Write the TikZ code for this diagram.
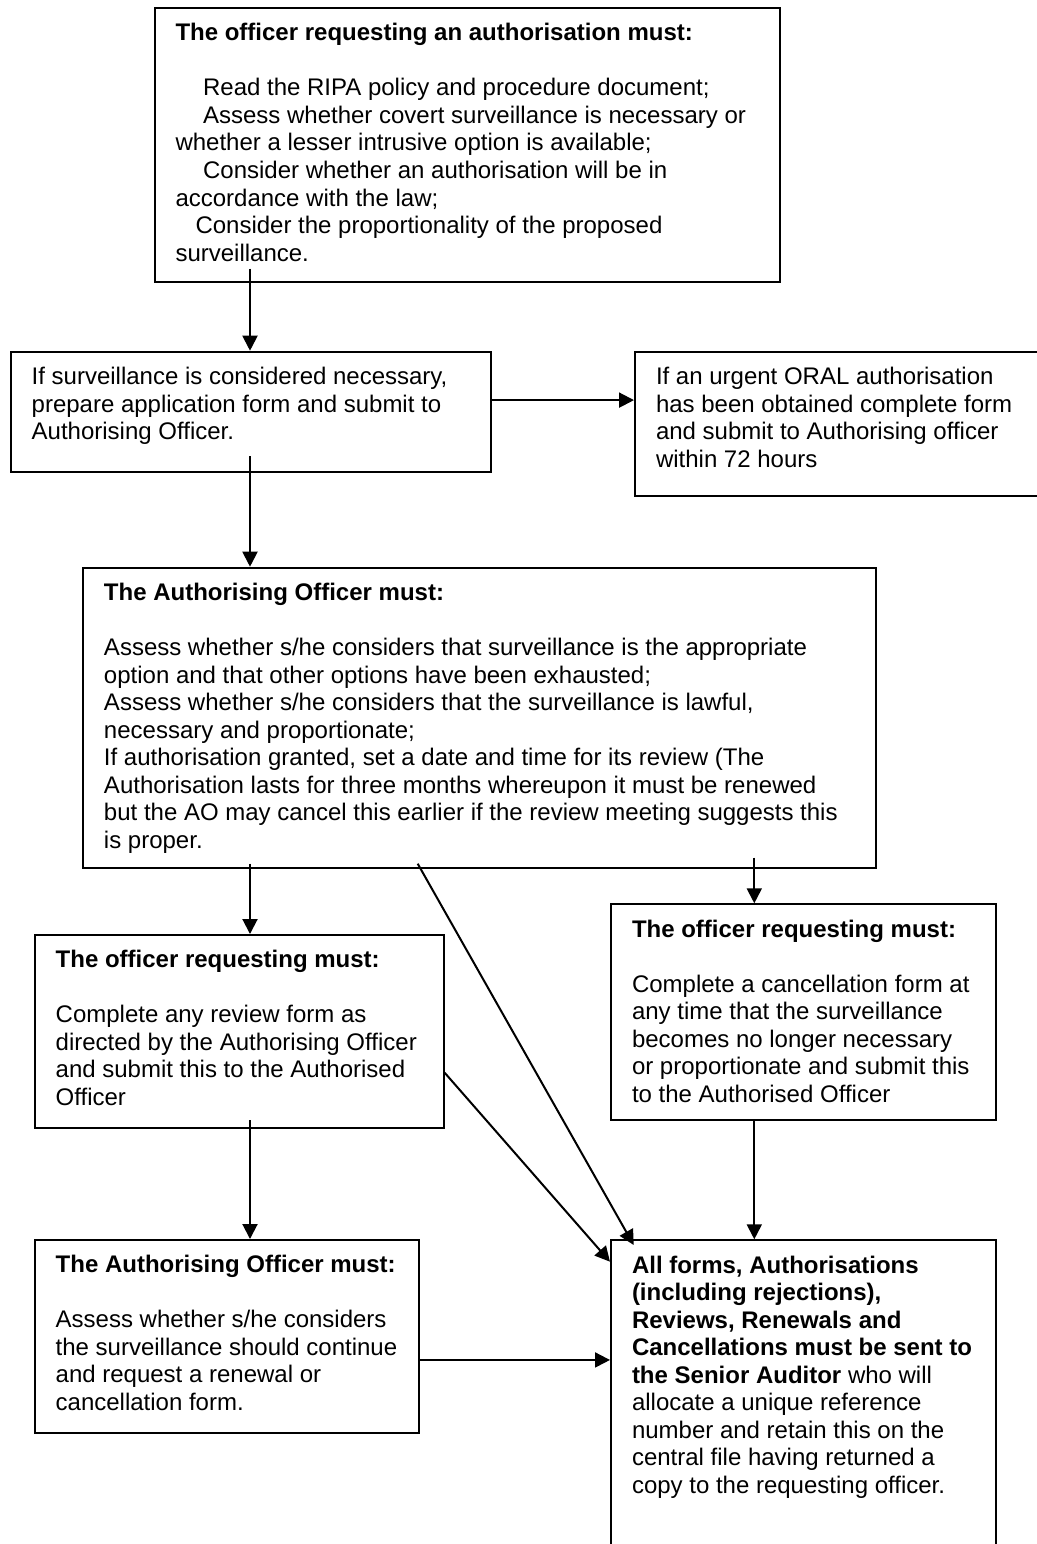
\documentclass[tikz,border=0pt]{standalone}
\usepackage{fontspec}
\setmainfont{Liberation Sans}
\usetikzlibrary{calc,arrows.meta}

\begin{document}
\begin{tikzpicture}[x=0.5pt,y=0.5pt,
  stepbox/.style={draw,line width=1pt,anchor=north west,align=flush left,inner xsep=10.5pt,inner ysep=0pt,
    text height=16.4pt,font=\fontsize{12}{13.77}\selectfont,execute at begin node={\rightskip=-4pt plus 1fil\relax}},
  arr/.style={line width=1pt,-{Triangle[length=7.5pt,width=7.5pt]}}]
\useasboundingbox (0,0) rectangle (1037,-1544);
\coordinate (lft) at (250,0);
\coordinate (rgt) at (754.3,0);
\node[stepbox,text width=291.5pt,text depth=120.35pt] (req) at (153.5,-7) {\textbf{The officer requesting an authorisation must:}\\[13.77pt]
\hspace*{13.8pt}Read the RIPA policy and procedure document;\\
\hspace*{13.8pt}Assess whether covert surveillance is necessary or\\
whether a lesser intrusive option is available;\\
\hspace*{13.8pt}Consider whether an authorisation will be in\\
accordance with the law;\\
\hspace*{10pt}Consider the proportionality of the proposed\\
surveillance.};
\node[stepbox,text width=219.3pt,text depth=43.6pt] (apply) at (9.7,-350.7) {If surveillance is considered necessary,\\
prepare application form and submit to\\
Authorising Officer.};
\node[stepbox,text width=184.5pt,text depth=55.75pt] (oral) at (634,-350.7) {If an urgent ORAL authorisation\\
has been obtained complete form\\
and submit to Authorising officer\\
within 72 hours};
\node[stepbox,text width=375.35pt,text depth=133.9pt] (auth) at (82,-566.7) {\textbf{The Authorising Officer must:}\\[13.77pt]
Assess whether s/he considers that surveillance is the appropriate\\
option and that other options have been exhausted;\\
Assess whether s/he considers that the surveillance is lawful,\\
necessary and proportionate;\\
If authorisation granted, set a date and time for its review (The\\
Authorisation lasts for three months whereupon it must be renewed\\
but the AO may cancel this earlier if the review meeting suggests this\\
is proper.};
\node[stepbox,text width=183.5pt,text depth=79.95pt] (review) at (33.7,-934) {\textbf{The officer requesting must:}\\[13.77pt]
Complete any review form as\\
directed by the Authorising Officer\\
and submit this to the Authorised\\
Officer};
\node[stepbox,text width=171.35pt,text depth=91.6pt] (cancel) at (610,-903.3) {\textbf{The officer requesting must:}\\[13.77pt]
Complete a cancellation form at\\
any time that the surveillance\\
becomes no longer necessary\\
or proportionate and submit this\\
to the Authorised Officer};
\node[stepbox,text width=171.3pt,text depth=79.95pt] (decide) at (33.7,-1239) {\textbf{The Authorising Officer must:}\\[13.77pt]
Assess whether s/he considers\\
the surveillance should continue\\
and request a renewal or\\
cancellation form.};
\node[stepbox,text width=171.35pt,text depth=139.6pt] (central) at (610,-1239.3) {\textbf{All forms, Authorisations}\\
\textbf{(including rejections),}\\
\textbf{Reviews, Renewals and}\\
\textbf{Cancellations must be sent to}\\
\textbf{the Senior Auditor} who will\\
allocate a unique reference\\
number and retain this on the\\
central file having returned a\\
copy to the requesting officer.};
\foreach \a/\b/\s in {req/apply/7pt,apply/auth/8.3pt,auth/review/2.8pt,review/decide/4.3pt}
  \draw[arr] ([yshift=\s]\a.south -| lft) -- (\b.north -| lft);
\draw[arr] ([yshift=5.8pt]apply.east) -- ([yshift=5.8pt]apply.east -| oral.west);
\draw[arr] ([yshift=5.8pt]auth.south -| rgt) -- (cancel.north -| rgt);
\draw[arr] (cancel.south -| rgt) -- (central.north -| rgt);
\draw[arr] ([yshift=-11.8pt]decide.east) -- ([yshift=-11.8pt]decide.east -| central.west);
\draw[arr] ([shift={(335.7,5.6)}]auth.south west) -- ([shift={(23.7,-5.7)}]central.north west);
\draw[arr] ([yshift=-20.7pt]review.east) -- ([shift={(0,-22.4)}]central.north west);
\end{tikzpicture}
\end{document}
